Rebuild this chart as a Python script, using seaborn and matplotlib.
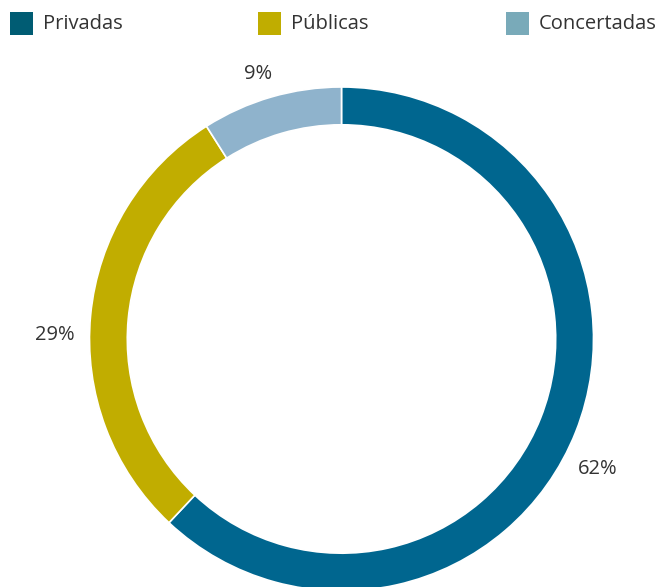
import matplotlib
matplotlib.use("Agg")
import matplotlib.pyplot as plt
from matplotlib.patches import Rectangle
import seaborn as sns
import numpy as np

categories = ["Privadas", "Públicas", "Concertadas"]
values = [62, 29, 9]
labels = ["62%", "29%", "9%"]
ring_colors = ["#00668f", "#c1ad00", "#8fb3cc"]
legend_colors = ["#005c73", "#c0ad00", "#79aab9"]

sns.set_theme(style="white")
plt.rcParams["font.family"] = ["Open Sans", "DejaVu Sans"]

W, H = 658, 587
fig = plt.figure(figsize=(W / 100, H / 100), dpi=100)

cx, cy, R = 341.5, 339, 252
ax = fig.add_axes([(cx - R) / W, (H - cy - R) / H, 2 * R / W, 2 * R / H])
ax.set_xlim(-1, 1)
ax.set_ylim(-1, 1)
ax.set_aspect("equal")
ax.axis("off")

wedges, _ = ax.pie(values, colors=ring_colors, startangle=90, counterclock=False,
                   radius=1, wedgeprops=dict(width=0.15, edgecolor="white", linewidth=1.2),
                   frame=False)
for w in wedges:
    w.set_clip_on(False)
ax.set_xlim(-1, 1)
ax.set_ylim(-1, 1)

# label placement: mid-angle with small nudges (degrees) and distances
angle_nudge = [-5.4, 4.6, 1.2]
label_dist = [1.139, 1.137, 1.103]
for w, lab, dn, r in zip(wedges, labels, angle_nudge, label_dist):
    ang = np.deg2rad((w.theta1 + w.theta2) / 2 + dn)
    ax.text(r * np.cos(ang), r * np.sin(ang), lab, ha="center", va="center",
            fontsize=14.5, color="#333333", clip_on=False)

# legend
xs = [10, 258, 506]
for x, c, name in zip(xs, legend_colors, categories):
    fig.add_artist(Rectangle((x / W, 1 - 35 / H), 23 / W, 23 / H, transform=fig.transFigure,
                             facecolor=c, edgecolor="none"))
    fig.text((x + 33) / W, 1 - 24 / H, name, ha="left", va="center", fontsize=14.5,
             color="#333333")

fig.savefig("out.png", dpi=100)
